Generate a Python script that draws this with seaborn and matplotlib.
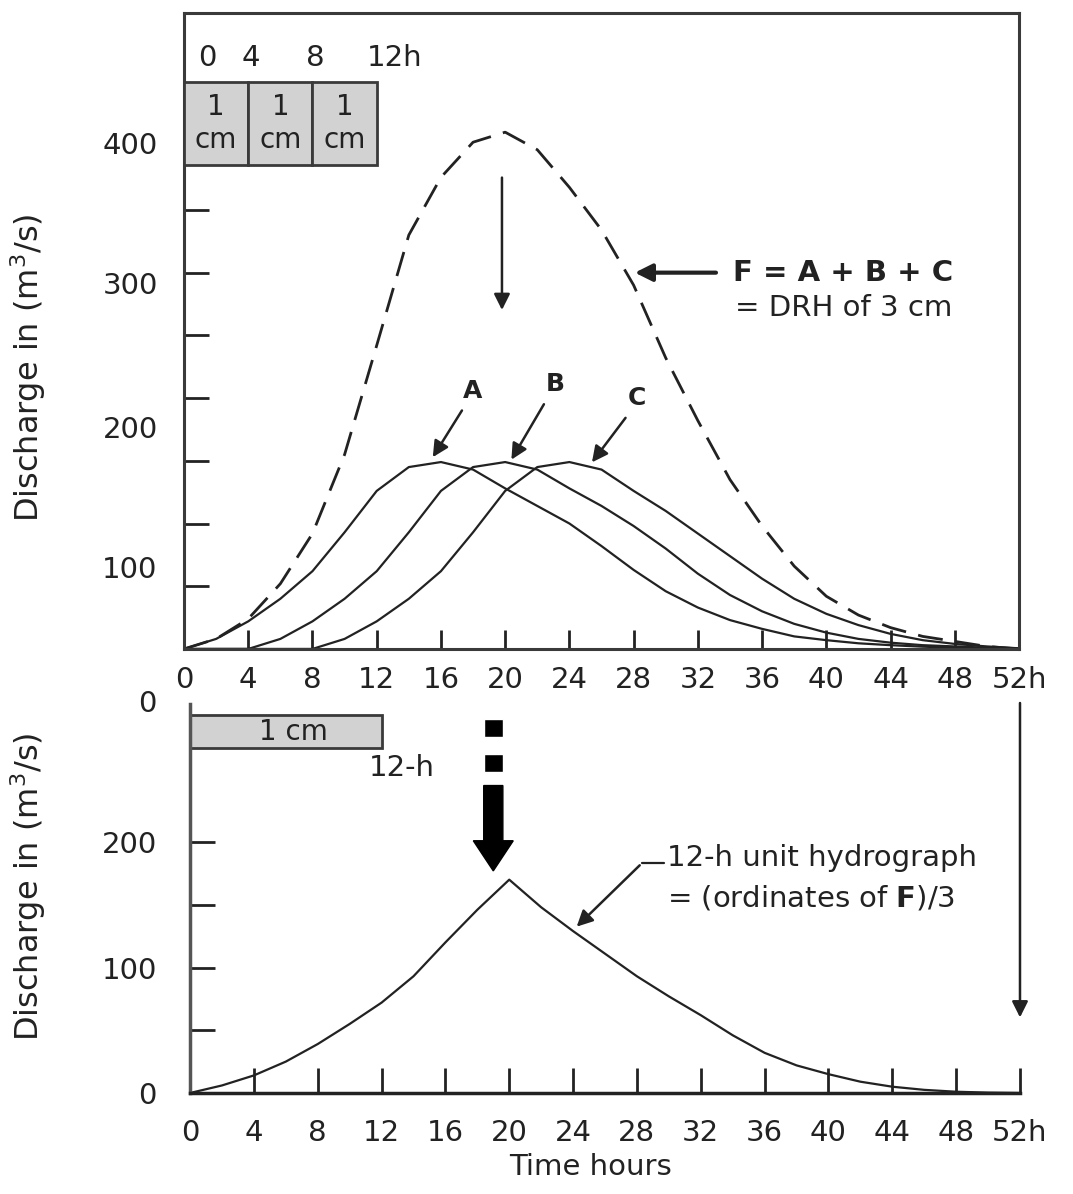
import matplotlib.pyplot as plt
import pandas as pd
import seaborn as sns

# ordinates, every 2 h
hours = list(range(0, 53, 2))
hydro_a = [0, 8, 22, 40, 62, 93, 126, 145, 149, 143, 128, 114, 100, 82,
           63, 46, 33, 23, 16, 10, 7, 4.5, 3, 1.8, 1, 0.4, 0]
hydro_b = [0, 0, 0, 8, 22, 40, 62, 93, 126, 145, 149, 143, 128, 114,
           98, 80, 60, 43, 30, 20, 13, 8, 5, 3, 2, 1, 0.3]
hydro_c = [0, 0, 0, 0, 0, 8, 22, 40, 62, 93, 126, 145, 149, 143,
           126, 110, 92, 74, 56, 40, 28, 19, 12, 7, 4, 2, 0.5]
hydro_f = [0, 8, 24, 52, 92, 155, 242, 330, 376, 404, 412, 398, 368, 334,
           290, 232, 182, 135, 98, 66, 42, 27, 17, 10, 6, 2, 0]
unit_12h = [0, 6, 14, 25, 39, 55, 72, 93, 120, 146, 170, 148, 129, 111,
            93, 77, 62, 46, 32, 22, 15, 9, 5, 2.5, 1, 0.3, 0]

rain_start = [0, 4, 8]
rain_width = [4, 4, 4]
rain_text = ["1\ncm", "1\ncm", "1\ncm"]
rain_marks = ["0", "4", "8", "12h"]
x_ticks = list(range(0, 53, 4))
x_labels = [str(t) for t in x_ticks[:-1]] + ["52h"]
top_ylabels = ["100", "200", "300", "400"]
bottom_yticks = [0, 50, 100, 150, 200]
bottom_ylabels = ["0", "", "100", "", "200"]

df = pd.DataFrame({"hours": hours, "A": hydro_a, "B": hydro_b,
                   "C": hydro_c, "F": hydro_f, "UH": unit_12h})

sns.set_style("white")
plt.rcParams["font.family"] = ["DejaVu Sans"]
plt.rcParams["mathtext.fontset"] = "dejavusans"
plt.rcParams["mathtext.default"] = "regular"

INK = "#222222"
SPINE = "#3a3a3a"
BOX = "#d2d2d2"
FS = 21

fig = plt.figure(figsize=(10.73, 11.94), dpi=100)
ax_top = fig.add_axes([0.1715, 0.4565, 0.7782, 0.5326])
ax_bot = fig.add_axes([0.1771, 0.0846, 0.7735, 0.3258])

# ---- top panel: A, B, C and F = A + B + C
for col in ["A", "B", "C"]:
    sns.lineplot(data=df, x="hours", y=col, ax=ax_top, color=INK, lw=1.6)
sns.lineplot(data=df, x="hours", y="F", ax=ax_top, color=INK, lw=2.0)
ax_top.lines[-1].set_linestyle((0, (9, 4.5)))

ax_top.set_xlim(0, 52)
ax_top.set_ylim(0, 507)
ax_top.set_xticks(x_ticks, x_labels)
ax_top.tick_params(axis="x", bottom=True, direction="in", length=14,
                   width=2, pad=12.5, labelsize=FS, colors=INK)
# the value labels of the original sit between its 50-unit tick marks
top_label_pos = [65, 177, 292, 403]
ax_top.set_yticks(top_label_pos, top_ylabels)
ax_top.set_yticks(range(50, 400, 50), minor=True)
ax_top.tick_params(axis="y", which="major", left=True, length=0, pad=19,
                   labelsize=FS, colors=INK)
ax_top.tick_params(axis="y", which="minor", left=True, direction="in",
                   length=18, width=2, color=INK)
ax_top.set_xlabel("")
ax_top.set_ylabel("Discharge in (m$^3$/s)", fontsize=23, color=INK)
ax_top.yaxis.set_label_coords(-0.163, 0.443)
for s in ax_top.spines.values():
    s.set_linewidth(2.2)
    s.set_color(SPINE)

# rainfall blocks 0-4, 4-8, 8-12 h
ax_top.bar(rain_start, 66, bottom=386, width=rain_width, align="edge",
           color=BOX, edgecolor=SPINE, linewidth=2, zorder=3)
for x0, w, txt in zip(rain_start, rain_width, rain_text):
    ax_top.text(x0 + w / 2, 419, txt, ha="center", va="center",
                fontsize=20, color=INK, linespacing=1.25, zorder=4)
for x0, txt in zip([0, 4, 8, 12], rain_marks):
    ha = "left" if txt in ("0", "12h") else "center"
    off = {"0": 14, "12h": -10}.get(txt, 3)
    ax_top.annotate(txt, xy=(x0, 471), xytext=(off * 0.72, 0),
                    textcoords="offset points", ha=ha, va="center",
                    fontsize=FS, color=INK)

arrow_kw = dict(arrowstyle="-|>", color=INK, lw=1.8, mutation_scale=24)
ax_top.annotate("", xy=(19.8, 268), xytext=(19.8, 378), arrowprops=arrow_kw)
for lab, tip, txt in [("A", (15.4, 151), (18.0, 206)),
                      ("B", (20.3, 149), (23.1, 211)),
                      ("C", (25.3, 147), (28.2, 200))]:
    ax_top.annotate("", xy=tip, xytext=(txt[0] - 0.6, txt[1] - 14),
                    arrowprops=arrow_kw)
    ax_top.text(txt[0], txt[1], lab, ha="center", va="center",
                fontsize=18, fontweight="bold", color=INK)

ax_top.annotate("", xy=(27.9, 300), xytext=(33.3, 300),
                arrowprops=dict(arrowstyle="-|>", color=INK, lw=3,
                                mutation_scale=26))
ax_top.text(34.2, 300, "F = A + B + C", ha="left", va="center",
            fontsize=21, fontweight="bold", color=INK)
ax_top.text(34.3, 272, "= DRH of 3 cm", ha="left", va="center",
            fontsize=21, color=INK)

# ---- bottom panel: 12-h unit hydrograph
sns.lineplot(data=df, x="hours", y="UH", ax=ax_bot, color=INK, lw=1.6)
ax_bot.set_xlim(0, 52)
ax_bot.set_ylim(0, 310)
ax_bot.set_xticks(x_ticks, x_labels)
ax_bot.tick_params(axis="x", bottom=True, direction="in", length=18,
                   width=2, pad=19, labelsize=FS, colors=INK)
ax_bot.set_yticks(bottom_yticks, bottom_ylabels)
ax_bot.tick_params(axis="y", left=True, direction="in", length=18,
                   width=2, pad=24, labelsize=FS, colors=INK)
ax_bot.annotate("0", xy=(0, 310), xytext=(-24, 0), textcoords="offset points",
                ha="right", va="center", fontsize=FS, color=INK,
                annotation_clip=False)
ax_bot.spines["top"].set_visible(False)
ax_bot.spines["right"].set_visible(False)
ax_bot.spines["left"].set_linewidth(2.5)
ax_bot.spines["left"].set_color("#555555")
ax_bot.spines["bottom"].set_linewidth(2.5)
ax_bot.spines["bottom"].set_color(INK)
ax_bot.set_xlabel("Time hours", fontsize=21, color=INK)
ax_bot.xaxis.set_label_coords(0.482, -0.155)
ax_bot.set_ylabel("Discharge in (m$^3$/s)", fontsize=23, color=INK)
ax_bot.yaxis.set_label_coords(-0.171, 0.53)

ax_bot.bar([0], 26, bottom=275, width=[12], align="edge", color=BOX,
           edgecolor=SPINE, linewidth=2)
ax_bot.text(6.5, 288, "1 cm", ha="center", va="center", fontsize=20,
            color=INK)
ax_bot.text(13.3, 259, "12-h", ha="center", va="center", fontsize=FS,
            color=INK)

# thick dashed arrow from F down to the unit hydrograph
ax_bot.bar([18.4, 18.4], [14, 14], bottom=[284, 256], width=1.2,
           align="edge", color="black")
ax_bot.arrow(19.0, 245, 0, -68, width=1.2, head_width=2.5, head_length=24,
             length_includes_head=True, color="black")

ax_bot.annotate("", xy=(52, 58), xytext=(52, 313), arrowprops=arrow_kw,
                annotation_clip=False)

ax_bot.plot([28.3, 29.7], [183, 183], color=INK, lw=1.6)
ax_bot.annotate("", xy=(24.1, 131), xytext=(28.3, 183), arrowprops=arrow_kw)
ax_bot.text(29.9, 187, "12-h unit hydrograph", ha="left", va="center",
            fontsize=FS, color=INK)
ax_bot.text(29.9, 155, "= (ordinates of $\\mathbf{F}$)/3", ha="left",
            va="center", fontsize=FS, color=INK)

fig.savefig("out.png", dpi=100)
